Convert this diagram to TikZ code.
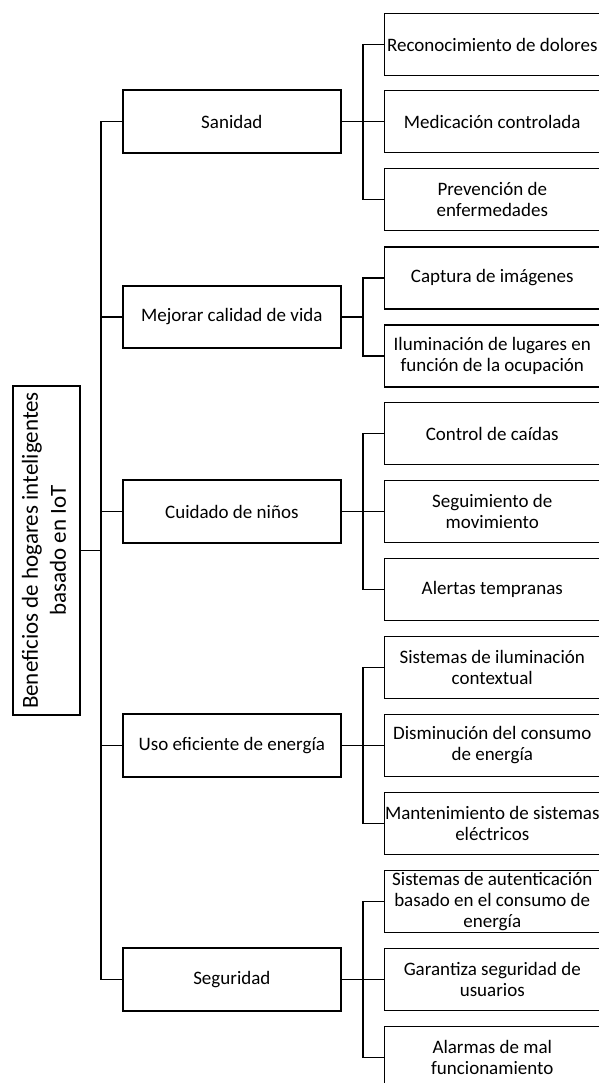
\documentclass[tikz,border=0pt]{standalone}
\usepackage{fontspec}
\setmainfont{Carlito}
\usepackage{graphicx}
\begin{document}
\begin{tikzpicture}[x=1pt,y=-1pt,
  box/.style={draw, line width=1.9pt, inner sep=0pt, align=center, font=\fontsize{19}{21}\selectfont},
  leaf/.style={box, minimum width=215.5pt, minimum height=62pt},
  cat/.style={box, minimum width=218.3pt, minimum height=62.5pt},
  link/.style={line width=1.9pt}]
\useasboundingbox (0,0) rectangle (598,1083);
\fill[white] (0,0) rectangle (598,1083);
% root
\node[draw, line width=1.9pt, minimum width=67.3pt, minimum height=329pt, inner sep=0pt] (root) at (46.35,550.5)
  {\rotatebox{90}{\fontsize{23}{28}\selectfont\begin{tabular}{@{}c@{}}Beneficios de hogares inteligentes\\basado en IoT\end{tabular}}};
% categories
\node[cat] (sanidad) at (231.85,121.5) {Sanidad};
\node[cat] (mejorar) at (231.85,317) {Mejorar calidad de vida};
\node[cat] (cuidado) at (231.85,511.5) {Cuidado de niños};
\node[cat] (uso) at (231.85,745.5) {Uso eficiente de energía};
\node[cat] (seguridad) at (231.85,979.5) {Seguridad};
% leaves
\node[leaf] (l1) at (492.25,44.5) {Reconocimiento de dolores};
\node[leaf] (l2) at (492.25,121.5) {Medicación controlada};
\node[leaf] (l3) at (492.25,199.5) {Prevención de\\enfermedades};
\node[leaf] (l4) at (492.25,278) {Captura de imágenes};
\node[leaf] (l5) at (492.25,356) {Iluminación de lugares en\\función de la ocupación};
\node[leaf] (l6) at (492.25,433.5) {Control de caídas};
\node[leaf] (l7) at (492.25,511.5) {Seguimiento de\\movimiento};
\node[leaf] (l8) at (492.25,589.5) {Alertas tempranas};
\node[leaf] (l9) at (492.25,667.5) {Sistemas de iluminación\\contextual};
\node[leaf] (l10) at (492.25,745.5) {Disminución del consumo\\de energía};
\node[leaf] (l11) at (492.25,823.5) {Mantenimiento de sistemas\\eléctricos};
\node[leaf] (l12) at (492.25,901.5) {Sistemas de autenticación\\basado en el consumo de\\energía};
\node[leaf] (l13) at (492.25,979.5) {Garantiza seguridad de\\usuarios};
\node[leaf] (l14) at (492.25,1057.5) {Alarmas de mal\\funcionamiento};
% trunk
\foreach \m in {sanidad,mejorar,cuidado,uso,seguridad}
  \draw[link] (\m.west) -- ++(-21.2,0) |- (root.east);
% branches
\foreach \l in {l1,l2,l3} \draw[link] (sanidad.east) -- ++(21.3,0) |- (\l.west);
\foreach \l in {l4,l5} \draw[link] (mejorar.east) -- ++(21.3,0) |- (\l.west);
\foreach \l in {l6,l7,l8} \draw[link] (cuidado.east) -- ++(21.3,0) |- (\l.west);
\foreach \l in {l9,l10,l11} \draw[link] (uso.east) -- ++(21.3,0) |- (\l.west);
\foreach \l in {l12,l13,l14} \draw[link] (seguridad.east) -- ++(21.3,0) |- (\l.west);
\end{tikzpicture}
\end{document}
